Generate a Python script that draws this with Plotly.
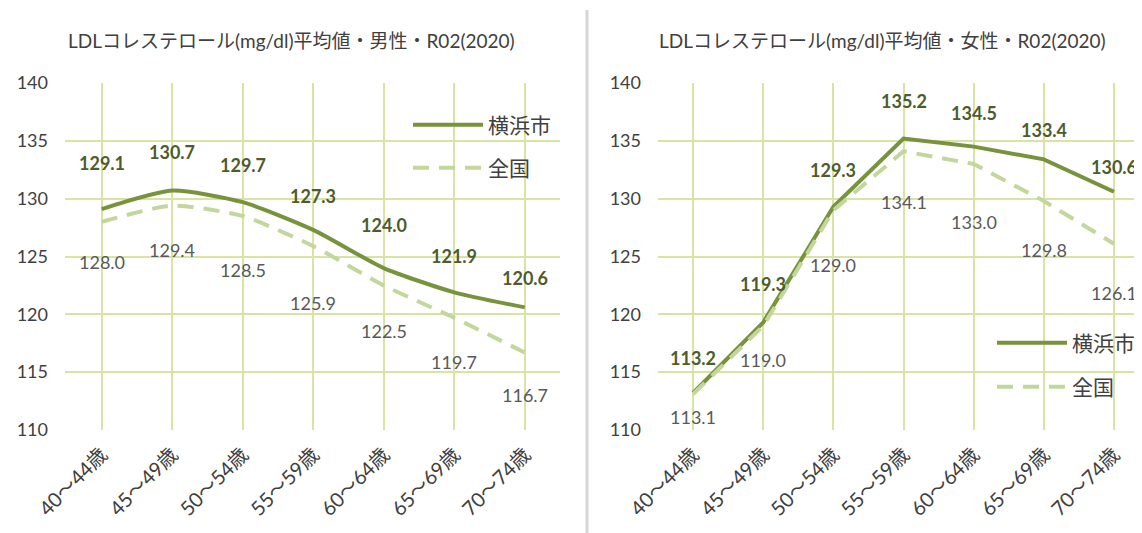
import plotly.graph_objects as go

# age bands shared by both panels
ages = ["40～44歳", "45～49歳", "50～54歳", "55～59歳", "60～64歳", "65～69歳", "70～74歳"]

# LDL cholesterol averages, R02 (2020)
male_yokohama = [129.1, 130.7, 129.7, 127.3, 124.0, 121.9, 120.6]
male_national = [128.0, 129.4, 128.5, 125.9, 122.5, 119.7, 116.7]
female_yokohama = [113.2, 119.3, 129.3, 135.2, 134.5, 133.4, 130.6]
female_national = [113.1, 119.0, 129.0, 134.1, 133.0, 129.8, 126.1]

titles = [
    "LDLコレステロール(mg/dl)平均値・男性・R02(2020)",
    "LDLコレステロール(mg/dl)平均値・女性・R02(2020)",
]
y_ticks = [110, 115, 120, 125, 130, 135, 140]

# vertical nudges (px) of the data labels, as placed in the original sheet
nudge_male_yoko = [46, 39, 37, 34, 43, 36, 29]
nudge_male_nat = [-40, -44, -54, -57, -46, -44, -42]
nudge_female_yoko = [35, 38, 37, 38, 34, 29, 25]
nudge_female_nat = [-23, -34, -55, -51, -58, -49, -49]

W, H = 1142, 533
PAD = 8  # the page body margin shifts the figure by this much
FONT = "Lato, 'Noto Sans CJK JP', sans-serif"
DARK = "#77933C"
LIGHT = "#C3D69B"
GRID = "#D8E3A4"


def px(x):
    return (x - PAD) / (W - PAD)


def py(y):
    return 1 - (y - PAD) / (H - PAD)


def legend_box(x, y):
    return dict(x=px(x), y=py(y), xanchor="left", yanchor="middle",
                bgcolor="rgba(0,0,0,0)", itemwidth=70,
                font=dict(family=FONT, size=21, color="#404040"))


fig = go.Figure()

panels = [
    ("x", "y", ("legend", "legend2"), male_yokohama, male_national,
     nudge_male_yoko, nudge_male_nat, "spline"),
    ("x2", "y2", ("legend3", "legend4"), female_yokohama, female_national,
     nudge_female_yoko, nudge_female_nat, "linear"),
]

for xa, ya, lgs, yoko, nat, n_yoko, n_nat, shape in panels:
    fig.add_trace(go.Scatter(
        x=ages, y=yoko, name="横浜市", mode="lines", xaxis=xa, yaxis=ya,
        legend=lgs[0], line=dict(color=DARK, width=4, shape=shape, smoothing=0.6),
    ))
    fig.add_trace(go.Scatter(
        x=ages, y=nat, name="全国", mode="lines", xaxis=xa, yaxis=ya,
        legend=lgs[1], line=dict(color=LIGHT, width=4, dash="16px,10px",
                                 shape=shape, smoothing=0.6),
    ))
    # data labels: bold above for Yokohama, plain below for national
    for a, v, s in zip(ages, yoko, n_yoko):
        fig.add_annotation(x=a, y=v, xref=xa, yref=ya, text=f"<b>{v:.1f}</b>",
                           showarrow=False, yshift=s,
                           font=dict(family=FONT, size=18, color="#4F5B2C"))
    for a, v, s in zip(ages, nat, n_nat):
        fig.add_annotation(x=a, y=v, xref=xa, yref=ya, text=f"{v:.1f}",
                           showarrow=False, yshift=s,
                           font=dict(family=FONT, size=18, color="#595959"))

axis_common = dict(
    showgrid=True, gridcolor=GRID, gridwidth=2, zeroline=False,
    showline=False, ticks="", automargin=False,
)
xtick = dict(tickangle=-45, ticklabelstandoff=8,
             tickfont=dict(family=FONT, size=20, color="#404040"))
ytick = dict(ticklabelstandoff=16,
             tickfont=dict(family=FONT, size=18, color="#404040"))

ydomain = [py(430), py(83)]

fig.update_layout(
    width=W - PAD, height=H - PAD,
    margin=dict(l=0, r=0, t=0, b=0),
    paper_bgcolor="white", plot_bgcolor="rgba(0,0,0,0)",
    font=dict(family=FONT, color="#404040"),
    showlegend=True,
    xaxis=dict(domain=[px(65), px(560)], range=[-0.52, 6.5],
               anchor="y", **xtick, **axis_common),
    yaxis=dict(domain=ydomain, range=[110, 140], tickvals=y_ticks,
               anchor="x", **ytick, **axis_common),
    xaxis2=dict(domain=[px(658), 1.0], range=[-0.5, 6.4],
                anchor="y2", **xtick, **axis_common),
    yaxis2=dict(domain=ydomain, range=[110, 140], tickvals=y_ticks,
                anchor="x2", **ytick, **axis_common),
    legend=legend_box(408, 125),
    legend2=legend_box(408, 168),
    legend3=legend_box(992, 343),
    legend4=legend_box(992, 387),
)

# panel titles
for cx, t in zip([291, 882], titles):
    fig.add_annotation(x=px(cx), y=py(40), xref="paper", yref="paper",
                       xanchor="center", yanchor="middle",
                       text=t, showarrow=False,
                       font=dict(family=FONT, size=19, color="#404040"))

# divider between the two charts
fig.add_shape(type="line", xref="paper", yref="paper",
              x0=px(587), x1=px(587), y0=0, y1=py(10),
              line=dict(color="#D6D6D6", width=3))

fig.write_html("out.html")
